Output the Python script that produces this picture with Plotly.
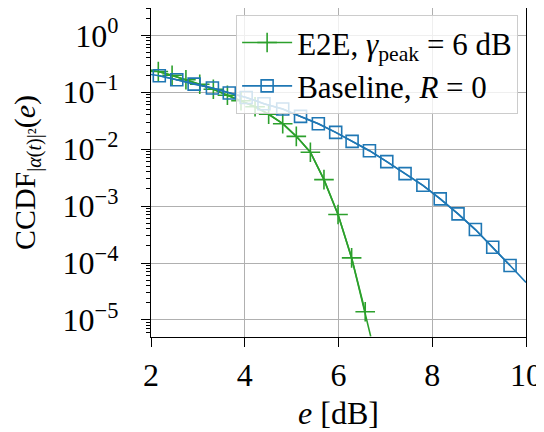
import plotly.graph_objects as go

# E2E, gamma_peak = 6 dB  (marker points)
e_e2e = [2.156, 2.45, 2.745, 3.04, 3.33, 3.63, 3.92, 4.22, 4.51, 4.81, 5.10, 5.40, 5.69, 5.99, 6.28, 6.57]
ccdf_e2e = [0.232, 0.199, 0.166, 0.138, 0.113, 0.0885, 0.0709, 0.0557, 0.0411, 0.028, 0.0168,
            0.00885, 0.00292, 0.00071, 0.000123, 1.39e-5]
# line ends of the E2E curve (at plot edges)
e_e2e_ends = [2.0, 6.687]
ccdf_e2e_ends = [0.245, 5.14e-6]

# Baseline, R = 0  (marker points)
e_base = [2.177, 2.55, 2.92, 3.31, 3.67, 4.03, 4.41, 4.81, 5.19, 5.57, 5.94, 6.29, 6.66, 7.03,
          7.42, 7.80, 8.17, 8.55, 8.92, 9.29, 9.66]
ccdf_base = [0.195, 0.166, 0.139, 0.119, 0.0968, 0.081, 0.0628, 0.0507, 0.0376, 0.028, 0.0197,
             0.0137, 0.0094, 0.00604, 0.00372, 0.00232, 0.00134, 0.00073, 0.000387, 0.000189, 9.03e-5]
e_base_ends = [2.0, 10.0]
ccdf_base_ends = [0.205, 4.54e-5]

x_ticks = [2, 4, 6, 8, 10]
x_ticktext = ["2", "4", "6", "8", "10"]
y_ticks = [1, 1e-1, 1e-2, 1e-3, 1e-4, 1e-5]
y_ticktext = ["10<sup>0</sup>", "10<sup>−1</sup>", "10<sup>−2</sup>", "10<sup>−3</sup>",
              "10<sup>−4</sup>", "10<sup>−5</sup>"]
minor_decades = [-6, -5, -4, -3, -2, -1, 0]
minor_digits = [2, 3, 4, 5, 6, 7, 8, 9]
y_minor = [d * 10.0 ** k for k in minor_decades for d in minor_digits]

GREEN = "#2ca02c"
BLUE = "#1f77b4"
FONT = "Liberation Serif"

fig = go.Figure()

fig.add_trace(go.Scatter(
    x=[e_e2e_ends[0]] + e_e2e + [e_e2e_ends[1]],
    y=[ccdf_e2e_ends[0]] + ccdf_e2e + [ccdf_e2e_ends[1]],
    mode="lines", line=dict(color=GREEN, width=1.6), showlegend=False, hoverinfo="skip"))
fig.add_trace(go.Scatter(
    x=e_e2e, y=ccdf_e2e, mode="lines+markers",
    name="E2E, <i>γ</i><sub>peak</sub> = 6 dB",
    line=dict(color=GREEN, width=1.6),
    marker=dict(symbol="cross-thin", size=14, line=dict(color=GREEN, width=1.6))))

fig.add_trace(go.Scatter(
    x=[e_base_ends[0]] + e_base + [e_base_ends[1]],
    y=[ccdf_base_ends[0]] + ccdf_base + [ccdf_base_ends[1]],
    mode="lines", line=dict(color=BLUE, width=1.6), showlegend=False, hoverinfo="skip"))
fig.add_trace(go.Scatter(
    x=e_base, y=ccdf_base, mode="lines+markers",
    name="Baseline, <i>R</i> = 0",
    line=dict(color=BLUE, width=1.6),
    marker=dict(symbol="square-open", size=12, line=dict(color=BLUE, width=1.6))))

axis_common = dict(
    showline=True, linecolor="black", linewidth=1.3, mirror=True,
    ticks="outside", tickcolor="black", ticklen=9, tickwidth=1.2,
    showgrid=True, gridcolor="#b0b0b0", gridwidth=1,
    zeroline=False, automargin=False,
    tickfont=dict(family=FONT, size=32, color="black"),
)

fig.update_xaxes(
    range=[2, 10], tickvals=x_ticks, ticktext=x_ticktext,
    title=dict(text="<i>e</i> [dB]", font=dict(family=FONT, size=32, color="black"), standoff=10),
    **axis_common)
fig.update_yaxes(
    type="log", range=[-5.30, 0.48], tickvals=y_ticks, ticktext=y_ticktext,
    ticklabelstandoff=16,
    minor=dict(ticks="outside", ticklen=4, tickwidth=1, tickcolor="black",
               tickmode="array", tickvals=y_minor, showgrid=False),
    title=dict(text="CCDF<sub><span style='font-size:20px'>|<i>α</i>(<i>t</i>)|²</span></sub>(<i>e</i>)",
               font=dict(family=FONT, size=30, color="black"), standoff=18),
    **axis_common)

# page body has an 8px margin: figure sized/margined so the plot lands where the reference has it
fig.update_layout(
    width=536, height=424,
    margin=dict(l=143, r=18, t=0, b=95),
    paper_bgcolor="white", plot_bgcolor="white",
    legend=dict(
        x=0.979, y=0.979, xanchor="right", yanchor="top",
        bgcolor="rgba(255,255,255,0.8)", bordercolor="#cccccc", borderwidth=1,
        font=dict(family=FONT, size=31, color="black"),
        itemwidth=50, tracegroupgap=0,
    ),
)

fig.write_html("out.html")
